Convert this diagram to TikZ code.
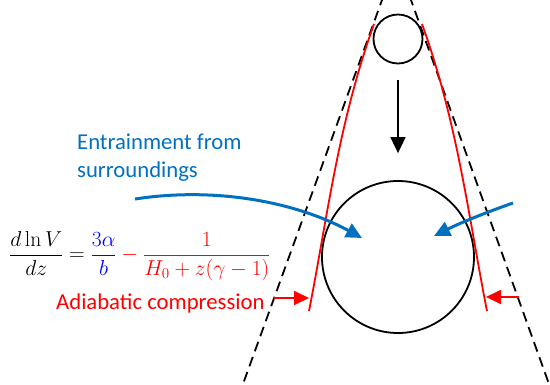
\RequirePackage{fix-cm}
\documentclass[tikz,border=0pt]{standalone}
\usepackage[no-math]{fontspec}
\setmainfont{Carlito}
\usetikzlibrary{arrows.meta,calc}
\definecolor{entblue}{RGB}{0,112,192}
\definecolor{pblue}{RGB}{0,0,255}
\definecolor{pred}{RGB}{255,0,0}
\tikzset{
  bubble/.style={circle, draw=black, line width=1.8pt, inner sep=0pt},
  coneline/.style={draw=black, line width=1.8pt, dash pattern=on 10pt off 6pt},
  redline/.style={draw=pred, line width=1.8pt},
  redarrow/.style={draw=pred, line width=1.8pt, -{Triangle[length=15pt,width=14pt]}},
  bluearrow/.style={draw=entblue, line width=3pt, -{Triangle[length=16pt,width=15pt]}},
  fallarrow/.style={draw=black, line width=1.8pt, -{Triangle[length=16pt,width=15pt]}},
  lbl/.style={font=\fontsize{22.7}{28}\selectfont, inner sep=0pt},
  eqlbl/.style={font=\fontsize{21.6}{26}\selectfont, inner sep=0pt}
}
\begin{document}
\begin{tikzpicture}[x=1pt,y=-1pt]
\useasboundingbox (0,0) rectangle (550,384);
\begin{scope}
\clip (0,0) rectangle (550,384);
% dashed cone
\coordinate (ctl) at (382,0);
\coordinate (cbl) at (243,384);
\coordinate (ctr) at (411,0);
\coordinate (cbr) at (549,384);
\draw[coneline] ($(ctl)!-0.05!(cbl)$) -- ($(ctl)!1.05!(cbl)$);
\draw[coneline] ($(ctr)!-0.05!(cbr)$) -- ($(ctr)!1.05!(cbr)$);
\end{scope}
% bubbles
\node[bubble, minimum size=49pt] (small) at (398,39) {};
\node[bubble, minimum size=152pt] (big) at (398,257) {};
% red envelope
\coordinate (rlt) at (374,24);
\coordinate (rlb) at (309,311);
\coordinate (rrt) at (422,24);
\coordinate (rrb) at (487,311);
\draw[redline] (rlt) .. controls (338,124) and (327,220) .. (rlb);
\draw[redline] (rrt) .. controls (458,124) and (469,220) .. (rrb);
% falling arrow
\draw[fallarrow, shorten <=16pt, shorten >=27pt] (small.south) -- (big.north);
% compression arrows
\coordinate (lca) at (274,298);
\coordinate (lcb) at (309,298);
\coordinate (rca) at (519,297);
\coordinate (rcb) at (486,297);
\draw[redarrow] (lca) -- (lcb);
\draw[redarrow] (rca) -- (rcb);
% entrainment arrows
\coordinate (bla) at (135,199);
\coordinate (blb) at (362,238);
\coordinate (bra) at (513,203);
\coordinate (brb) at (434,236);
\draw[bluearrow] (bla) .. controls (220,186) and (300,204) .. (blb);
\draw[bluearrow] (bra) .. controls (490,211) and (462,222) .. (brb);
% labels
\node[lbl, text=entblue, anchor=north west, align=left] (ent) at (77,134) {Entrainment from\\surroundings};
\node[lbl, text=pred, anchor=west] (adi) at (56,303) {Adiabatic compression};
\node[eqlbl, anchor=west] (eq) at (9,256) {$\displaystyle \frac{d\ln V}{dz}=\textcolor{pblue}{\frac{3\alpha}{b}}\mathbin{\textcolor{pred}{-}}\textcolor{pred}{\frac{1}{H_0+z(\gamma-1)}}$};
\end{tikzpicture}
\end{document}
